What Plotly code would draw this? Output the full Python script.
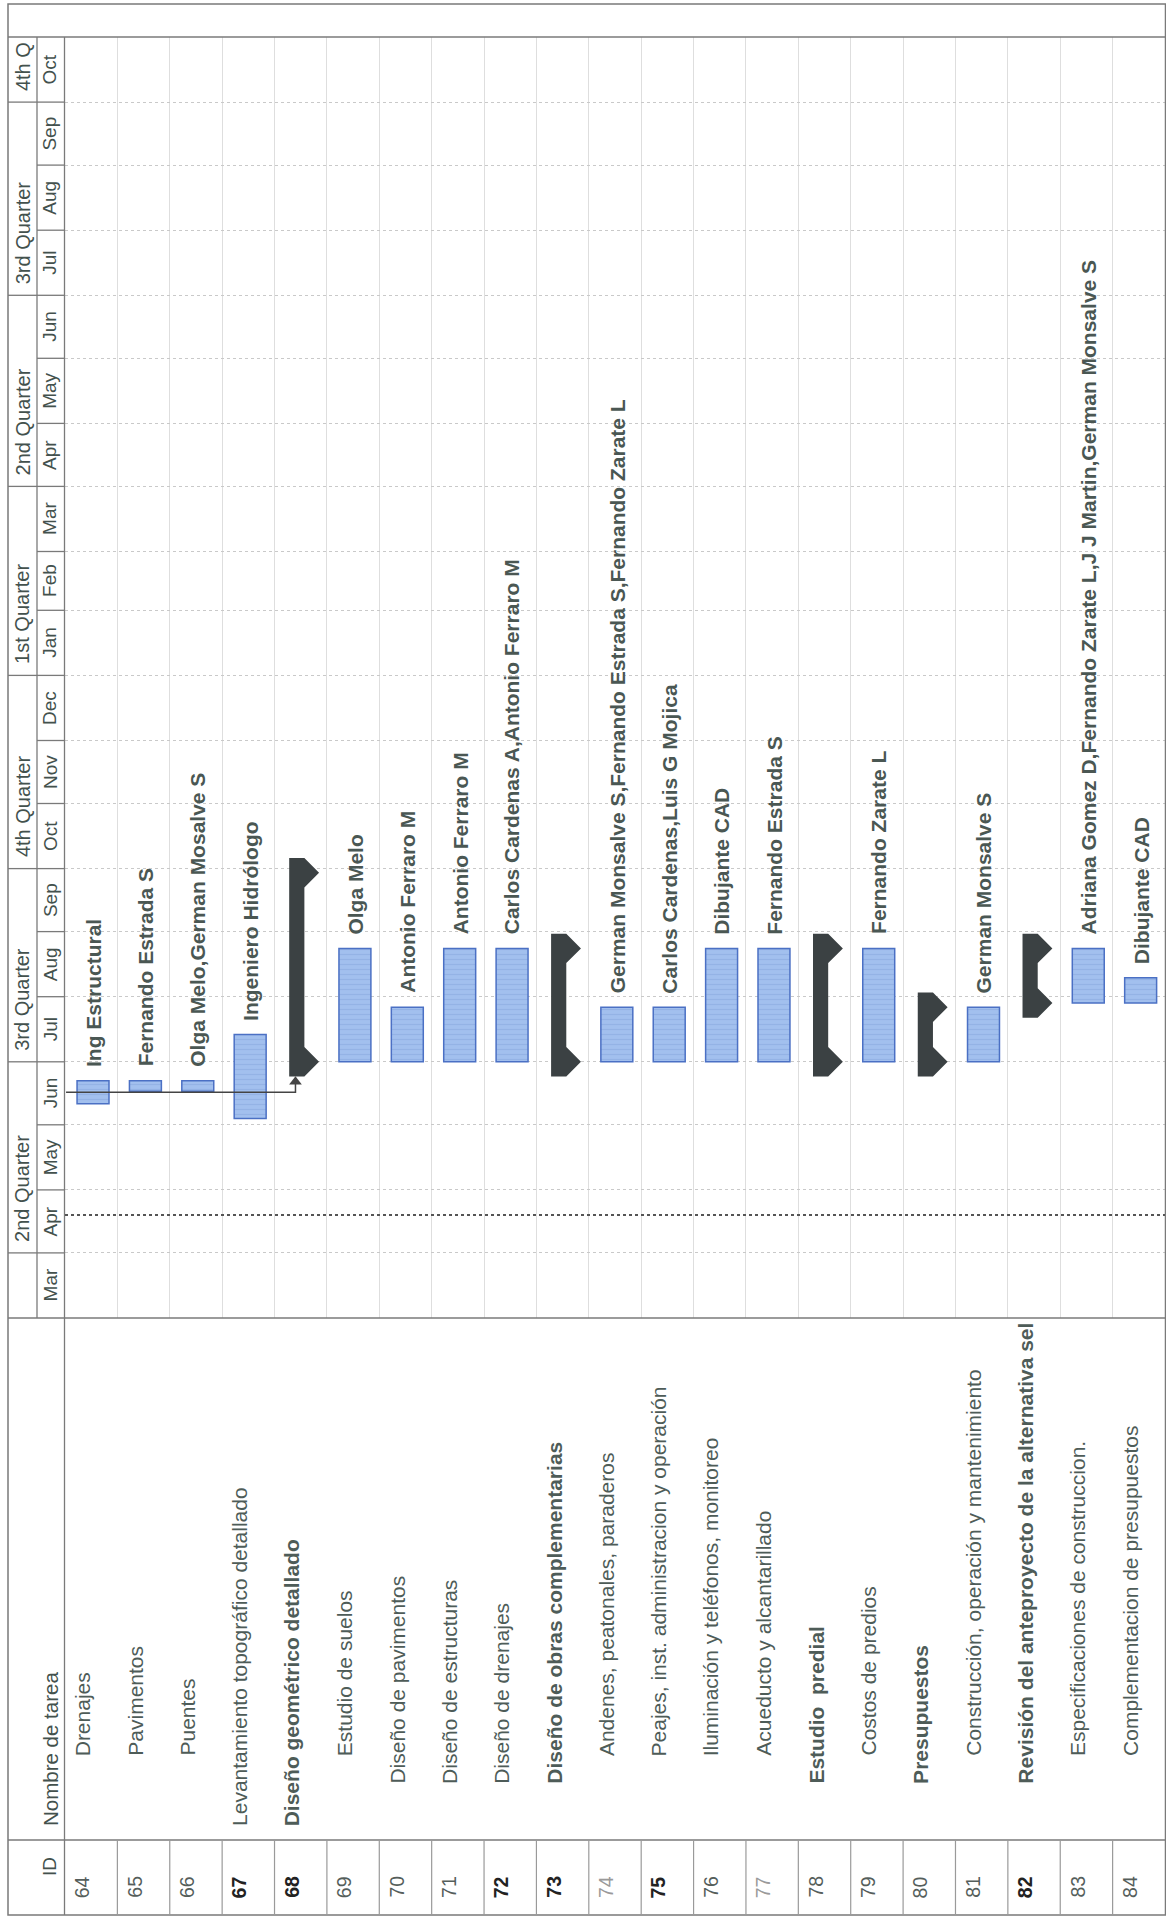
import plotly.graph_objects as go
import pandas as pd

# ---------------- data ----------------
task_ids = list(range(64, 85))
task_names = [
    "Drenajes", "Pavimentos", "Puentes", "Levantamiento topográfico detallado",
    "Diseño geométrico detallado", "Estudio de suelos", "Diseño de pavimentos",
    "Diseño de estructuras", "Diseño de drenajes", "Diseño de obras complementarias",
    "Andenes, peatonales, paraderos", "Peajes, inst. administracion y operación",
    "Iluminación y teléfonos, monitoreo", "Acueducto y alcantarillado", "Estudio  predial",
    "Costos de predios", "Presupuestos", "Construcción, operación y mantenimiento",
    "Revisión del anteproyecto de la alternativa sel", "Especificaciones de construccion.",
    "Complementacion de presupuestos",
]
task_kinds = ["task", "task", "task", "task", "summary", "task", "task", "task", "task", "summary",
              "task", "task", "task", "task", "summary", "task", "summary", "task", "summary",
              "task", "task"]
task_start = ["2006-06-11", "2006-06-17", "2006-06-17", "2006-06-04", "2006-07-01", "2006-07-01",
              "2006-07-01", "2006-07-01", "2006-07-01", "2006-07-01", "2006-07-01", "2006-07-01",
              "2006-07-01", "2006-07-01", "2006-07-01", "2006-07-01", "2006-07-01", "2006-07-01",
              "2006-07-29", "2006-07-29", "2006-07-29"]
task_end = ["2006-06-22", "2006-06-22", "2006-06-22", "2006-07-14", "2006-09-29", "2006-08-24",
            "2006-07-27", "2006-08-24", "2006-08-24", "2006-08-24", "2006-07-27", "2006-07-27",
            "2006-08-24", "2006-08-24", "2006-08-24", "2006-08-24", "2006-07-27", "2006-07-27",
            "2006-08-24", "2006-08-24", "2006-08-10"]
resources = [
    "Ing Estructural", "Fernando Estrada S", "Olga Melo,German Mosalve S", "Ingeniero Hidrólogo",
    "", "Olga Melo", "Antonio Ferraro M", "Antonio Ferraro M", "Carlos Cardenas A,Antonio Ferraro M",
    "", "German Monsalve S,Fernando Estrada S,Fernando Zarate L", "Carlos Cardenas,Luis G Mojica",
    "Dibujante CAD", "Fernando Estrada S", "", "Fernando Zarate L", "", "German Monsalve S", "",
    "Adriana Gomez D,Fernando Zarate L,J J Martin,German Monsalve S", "Dibujante CAD",
]
name_level = [2, 2, 2, 0, 0, 2, 1, 1, 1, 1, 2, 2, 2, 2, 1, 2, 1, 2, 1, 2, 2]
name_bold = [False, False, False, False, True, False, False, False, False, True,
             False, False, False, False, True, False, True, False, True, False, False]
id_tone = ["n", "n", "n", "b", "b", "n", "n", "n", "b", "b", "l", "b", "n", "l", "n", "n", "n", "n",
           "b", "n", "n"]

month_labels = ["Mar", "Apr", "May", "Jun", "Jul", "Aug", "Sep", "Oct", "Nov", "Dec",
                "Jan", "Feb", "Mar", "Apr", "May", "Jun", "Jul", "Aug", "Sep", "Oct"]
quarter_labels = ["2nd Quarter", "3rd Quarter", "4th Quarter", "1st Quarter",
                  "2nd Quarter", "3rd Quarter", "4th Q"]
quarter_starts = ["2006-04-01", "2006-07-01", "2006-10-01", "2007-01-01",
                  "2007-04-01", "2007-07-01", "2007-10-01"]
status_date = "2006-04-19"
links = [(0, 4)]

# ---------------- layout geometry ----------------
W_FIG, H_FIG = 1166, 1918
L, T, R, B = 65, 37, 1, 600
PW = W_FIG - L - R
PH = H_FIG - T - B


def px_x(px):
    return (px - L) / PW


def px_y(py):
    return (T + PH - py) / PH


FONT = "Liberation Sans, Arial, sans-serif"
TXT = "#4a5753"
BORDER = "#7a7a7a"

month_starts = pd.date_range("2006-03-01", periods=len(month_labels) + 1, freq="MS")
n = len(task_ids)

fig = go.Figure()

# task bars
bar_i = [i for i in range(n) if task_kinds[i] == "task"]
fig.add_trace(go.Bar(
    x=bar_i,
    y=[(pd.Timestamp(task_end[i]) - pd.Timestamp(task_start[i])).total_seconds() * 1000 for i in bar_i],
    base=[task_start[i] for i in bar_i],
    width=0.61, offset=-0.27,
    marker=dict(color="#a2c0ee", line=dict(color="#4b70c4", width=1.5),
                pattern=dict(shape="-", fgcolor="#86a5dc", size=5, solidity=0.25)),
    hoverinfo="skip", showlegend=False,
))

# summary bars
cap = pd.Timedelta(days=7)
for i in range(n):
    if task_kinds[i] != "summary":
        continue
    s = pd.Timestamp(task_start[i])
    e = pd.Timestamp(task_end[i])
    xs = [i - 0.22, i + 0.07, i + 0.35, i + 0.07, i + 0.07, i + 0.35, i + 0.07, i - 0.22, i - 0.22]
    ys = [e + cap, e + cap, e, e - cap, s + cap, s, s - cap, s - cap, e + cap]
    fig.add_trace(go.Scatter(x=xs, y=ys, mode="lines", fill="toself", fillcolor="#3b4143",
                             line=dict(width=0, color="#3b4143"), hoverinfo="skip", showlegend=False))

# links
for a, b in links:
    ya = pd.Timestamp(task_start[a]) + (pd.Timestamp(task_end[a]) - pd.Timestamp(task_start[a])) / 2
    tip = pd.Timestamp(task_start[b]) - cap
    xb = b - 0.1
    fig.add_trace(go.Scatter(x=[a - 0.48, xb, xb], y=[ya, ya, tip - pd.Timedelta(days=3)],
                             mode="lines", line=dict(color="#444", width=1.5),
                             hoverinfo="skip", showlegend=False))
    fig.add_trace(go.Scatter(x=[xb], y=[tip - pd.Timedelta(days=2.5)], mode="markers",
                             marker=dict(symbol="triangle-up", size=11, color="#444"),
                             hoverinfo="skip", showlegend=False))

ann = []
# resource labels
for i in range(n):
    if resources[i]:
        ann.append(dict(x=i + 0.04, y=task_end[i], xref="x", yref="y", text="<b>" + resources[i] + "</b>",
                        textangle=-90, xanchor="center", yanchor="bottom", yshift=12, showarrow=False,
                        font=dict(family=FONT, size=21, color=TXT)))

# month labels
for k, lab in enumerate(month_labels):
    mid = month_starts[k] + (month_starts[k + 1] - month_starts[k]) / 2
    ann.append(dict(x=px_x(50), y=mid, xref="paper", yref="y", text=lab, textangle=-90,
                    xanchor="center", yanchor="middle", showarrow=False,
                    font=dict(family=FONT, size=19, color="#43514d")))
# quarter labels
for lab, qs in zip(quarter_labels, quarter_starts):
    ann.append(dict(x=px_x(22.5), y=qs, xref="paper", yref="y", text=lab, textangle=-90,
                    xanchor="center", yanchor="bottom", yshift=9, showarrow=False,
                    font=dict(family=FONT, size=20, color="#43514d")))

# table header
ann.append(dict(x=px_x(49), y=px_y(1867), xref="paper", yref="paper", text="ID", textangle=-90,
                xanchor="center", yanchor="middle", showarrow=False,
                font=dict(family=FONT, size=19, color="#43514d")))
ann.append(dict(x=px_x(50), y=px_y(1828), xref="paper", yref="paper", text="Nombre de tarea",
                textangle=-90, xanchor="center", yanchor="bottom", showarrow=False,
                font=dict(family=FONT, size=20.5, color="#43514d")))

level_px = [1828, 1786, 1758]
tone_color = {"n": "#555e5b", "b": "#222222", "l": "#9a9a9a"}
for i in range(n):
    ann.append(dict(x=i - 0.17, y=px_y(1887), xref="x", yref="paper", text=str(task_ids[i]),
                    textangle=-90, xanchor="center", yanchor="middle", showarrow=False,
                    font=dict(family=FONT, size=19.5, color=tone_color[id_tone[i]],
                              weight="bold" if id_tone[i] == "b" else "normal")))
    nm = task_names[i].replace("  ", "\u00a0 ")
    ann.append(dict(x=i - 0.17, y=px_y(level_px[name_level[i]]), xref="x", yref="paper",
                    text=("<b>" + nm + "</b>") if name_bold[i] else nm,
                    textangle=-90, xanchor="center", yanchor="bottom", showarrow=False,
                    font=dict(family=FONT, size=21, color="#4e5c58")))

# shapes
shapes = []


def hline(py, x0, x1, color=BORDER, width=1.3, dash="solid"):
    shapes.append(dict(type="line", xref="paper", yref="paper", x0=px_x(x0), x1=px_x(x1),
                       y0=px_y(py), y1=px_y(py), line=dict(color=color, width=width, dash=dash)))


def vline(px, y0, y1, color=BORDER, width=1.3):
    shapes.append(dict(type="line", xref="paper", yref="paper", x0=px_x(px), x1=px_x(px),
                       y0=px_y(y0), y1=px_y(y1), line=dict(color=color, width=width)))


shapes.append(dict(type="rect", xref="paper", yref="paper", x0=px_x(8), x1=px_x(1165.5),
                   y0=px_y(1915), y1=px_y(4), line=dict(color=BORDER, width=1.5)))
hline(37, 8, 1166)
hline(1318, 8, 1166)
hline(1840, 8, 1166)
vline(37, 37, 1318)
vline(64.5, 37, 1915)
# month / quarter separators in header
for ms in month_starts[1:-1]:
    shapes.append(dict(type="line", xref="paper", yref="y", x0=px_x(37), x1=px_x(64), y0=ms, y1=ms,
                       line=dict(color=BORDER, width=1.3)))
for qs in quarter_starts:
    shapes.append(dict(type="line", xref="paper", yref="y", x0=px_x(8), x1=px_x(37), y0=qs, y1=qs,
                       line=dict(color=BORDER, width=1.3)))
# ID column row separators
for k in range(1, n):
    shapes.append(dict(type="line", xref="x", yref="paper", x0=k - 0.5, x1=k - 0.5,
                       y0=px_y(1915), y1=px_y(1840), line=dict(color="#9a9a9a", width=1.2)))
# status date line
shapes.append(dict(type="line", xref="paper", yref="y", x0=0, x1=1, y0=status_date, y1=status_date,
                   line=dict(color="#555", width=2, dash="dot")))

fig.update_layout(
    width=W_FIG, height=H_FIG, autosize=False,
    margin=dict(l=L, r=R, t=T, b=B, pad=0),
    paper_bgcolor="white", plot_bgcolor="white",
    showlegend=False,
    xaxis=dict(range=[-0.5, n - 0.5], tickvals=[k - 0.5 for k in range(1, n)], showticklabels=False,
               showgrid=True, gridcolor="#dedede", gridwidth=1, zeroline=False, showline=False,
               ticks="", fixedrange=True),
    yaxis=dict(type="date", range=[month_starts[0], month_starts[-1]], tickvals=list(month_starts[1:-1]),
               showticklabels=False, showgrid=True, gridcolor="#c9c9c9", griddash="dot", gridwidth=1,
               zeroline=False, showline=False, ticks="", fixedrange=True),
    annotations=ann,
    shapes=shapes,
)

fig.write_html("out.html")
